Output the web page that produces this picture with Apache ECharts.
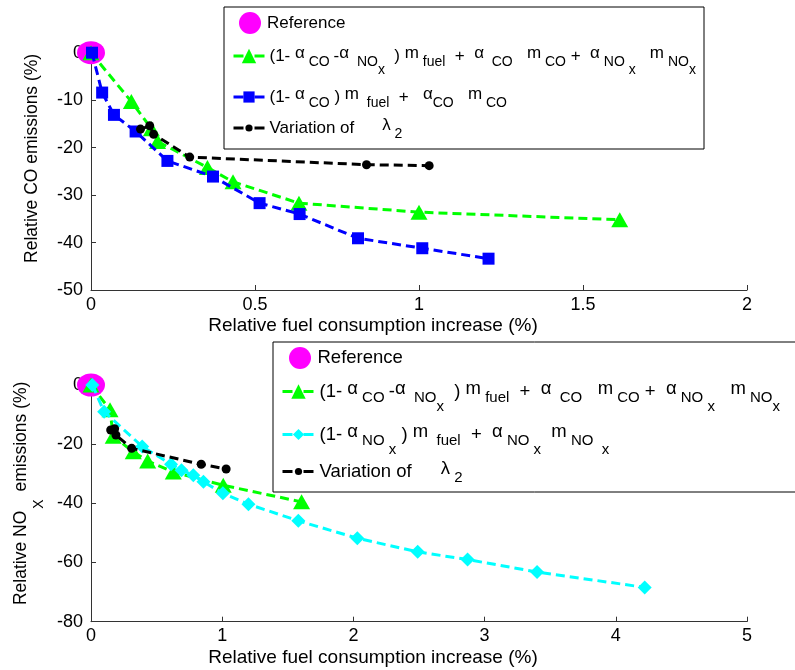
<!DOCTYPE html>
<html>
<head>
<meta charset="utf-8">
<script src="https://cdn.jsdelivr.net/npm/echarts@6/dist/echarts.min.js"></script>
<style>html,body{margin:0;padding:0;background:#fff}#c{width:795px;height:670px}</style>
</head>
<body>
<div id="c"></div>
<script>
// ---------- data ----------
var refX = [0];
var refY = [0];

// Top panel: relative CO emissions vs relative fuel consumption increase
var coAllX = [0, 0.123, 0.184, 0.203, 0.355, 0.433, 0.634, 1.000, 1.612];
var coAllY = [0, -10.3, -16.0, -18.7, -24.2, -27.2, -31.7, -33.6, -35.2];
var coCoX  = [0.003, 0.034, 0.070, 0.136, 0.233, 0.372, 0.514, 0.636, 0.814, 1.010, 1.212];
var coCoY  = [0, -8.4, -13.1, -16.6, -22.8, -26.1, -31.7, -34.0, -39.1, -41.2, -43.4];
var coLamX = [0.151, 0.179, 0.191, 0.301, 0.840, 1.031];
var coLamY = [-16.1, -15.4, -17.2, -22.0, -23.6, -23.8];

// Bottom panel: relative NOx emissions vs relative fuel consumption increase
var noAllX = [0, 0.145, 0.169, 0.322, 0.432, 0.627, 1.008, 1.605];
var noAllY = [0, -8.4, -17.3, -22.6, -25.7, -29.4, -33.9, -39.5];
var noNoX  = [0.01, 0.10, 0.39, 0.61, 0.69, 0.78, 0.857, 1.005, 1.20, 1.58, 2.03, 2.49, 2.87, 3.40, 4.22];
var noNoY  = [0, -9.0, -20.8, -26.8, -28.8, -30.5, -32.7, -36.6, -40.3, -45.9, -51.8, -56.4, -59.0, -63.2, -68.4];
var noLamX = [0.15, 0.18, 0.19, 0.31, 0.84, 1.03];
var noLamY = [-15.2, -14.8, -16.9, -21.4, -26.8, -28.4];

var topXTicks = [0, 0.5, 1, 1.5, 2];
var topYTicks = [-50, -40, -30, -20, -10, 0];
var botXTicks = [0, 1, 2, 3, 4, 5];
var botYTicks = [-80, -60, -40, -20, 0];

var xTitle = 'Relative fuel consumption increase (%)';
var coTitle = 'Relative CO emissions (%)';
var noTitle = '{t|Relative NO}{X|X}{t| emissions (%)}';
var allText = '{t|(1- }{a|α}{s| CO }{t|-}{a|α}{s|  NO}{x|x}{t|  ) }{a|m}{s| fuel}{t|  +  }{a|α}{s|  CO}{t|   }{a|m}{s| CO}{t| +  }{a|α}{s| NO}{x| x}{t|   }{a|m}{s| NO}{x|x}';
var legendTexts = {
  ref1: '{t|Reference}',
  ref2: '{t|Reference}',
  coAll: allText,
  coCo: '{t|(1- }{a|α}{s| CO}{t| ) }{a|m}{s|  fuel}{t|  +   }{a|α}{s|CO}{t|   }{a|m}{s| CO}',
  coLam: '{t|Variation of}{lam|λ}{s| 2}',
  noAll: allText,
  noNo: '{t|(1- }{a|α}{s| NO}{x| x}{t| ) }{a|m}{s|  fuel}{t|  +  }{a|α}{s| NO}{x| x}{t|  }{a|m}{s| NO}{x|  x}',
  noLam: '{t|Variation of}{lam|λ}{s| 2}'
};

function zip(xs, ys) { return xs.map(function (v, i) { return [v, ys[i]]; }); }

var FONT = 'Liberation Sans, Arial, sans-serif';
var GREEN = '#00ff00', BLUE = '#0000ff', BLACK = '#000000', CYAN = '#00ffff', MAGENTA = '#ff00ff';
var DASH = [9, 5];

function makeRich(main, sub, subPad, xPad, lamPad) {
  var base = {lineHeight: 20, verticalAlign: 'middle', fontFamily: FONT, color: '#000'};
  function st(extra) { var o = {}; for (var k in base) o[k] = base[k]; for (var j in extra) o[j] = extra[j]; return o; }
  return {
    t:   st({fontSize: main}),
    a:   st({fontSize: main, padding: [0, 0, 6, 0]}),
    s:   st({fontSize: sub, padding: [subPad, 0, 0, 0]}),
    x:   st({fontSize: sub, padding: [xPad, 0, 0, 0]}),
    lam: st({fontSize: main, padding: [0, 0, 6, lamPad]})
  };
}
var richTop = makeRich(17, 14, 12, 28, 28);
var richBot = makeRich(18.5, 15, 12, 30, 29);

function mkLegend(name, left, top, iw, ih, isRef, rich, fs) {
  var l = {
    data: [name], left: left, top: top, padding: 0, itemGap: 0,
    itemWidth: iw, itemHeight: ih, selectedMode: false,
    formatter: function (n) { return legendTexts[n]; },
    textStyle: {fontFamily: FONT, fontSize: fs, color: '#000', rich: rich}
  };
  if (isRef) { l.icon = 'circle'; }
  else { l.lineStyle = {type: [10, 11], width: 3}; }
  return l;
}

function axisCommon(extra) {
  var o = {
    type: 'value',
    axisLine: {show: true, onZero: false, lineStyle: {color: '#333', width: 1}},
    axisTick: {show: true, inside: true, length: 5, lineStyle: {color: '#333'}},
    splitLine: {show: false},
    axisLabel: {color: '#000', fontSize: 18, fontFamily: FONT}
  };
  for (var k in extra) o[k] = extra[k];
  return o;
}

function lineSeries(name, xi, yi, xs, ys, color, symbol, size, z) {
  return {
    name: name, type: 'line', xAxisIndex: xi, yAxisIndex: yi,
    data: zip(xs, ys), symbol: symbol, symbolSize: size, z: z,
    lineStyle: {color: color, width: 3, type: DASH},
    itemStyle: {color: color}, showSymbol: true, animation: false
  };
}

var chart = echarts.init(document.getElementById('c'), null, {renderer: 'canvas'});
chart.setOption({
  backgroundColor: '#fff',
  animation: false,
  grid: [
    {left: 91, width: 656, top: 52.7, height: 237.3, outerBoundsMode: 'none', containLabel: false},
    {left: 91, width: 656, top: 385, height: 236.7, outerBoundsMode: 'none', containLabel: false}
  ],
  xAxis: [
    axisCommon({gridIndex: 0, min: topXTicks[0], max: topXTicks[topXTicks.length - 1], interval: 0.5,
      axisLabel: {color: '#000', fontSize: 18, fontFamily: FONT, margin: 6},
      name: xTitle, nameLocation: 'middle', nameGap: 26,
      nameTextStyle: {color: '#000', fontSize: 19, fontFamily: FONT, padding: [0, 92, 0, 0]}}),
    axisCommon({gridIndex: 1, min: botXTicks[0], max: botXTicks[botXTicks.length - 1], interval: 1,
      axisLabel: {color: '#000', fontSize: 18, fontFamily: FONT, margin: 5},
      name: xTitle, nameLocation: 'middle', nameGap: 27,
      nameTextStyle: {color: '#000', fontSize: 19, fontFamily: FONT, padding: [0, 92, 0, 0]}})
  ],
  yAxis: [
    axisCommon({gridIndex: 0, min: topYTicks[0], max: topYTicks[topYTicks.length - 1], interval: 10,
      axisLabel: {color: '#000', fontSize: 18, fontFamily: FONT, margin: 8},
      name: coTitle, nameLocation: 'middle', nameGap: 50,
      nameTextStyle: {color: '#000', fontSize: 17.5, fontFamily: FONT, padding: [0, 0, 0, 26]}}),
    axisCommon({gridIndex: 1, min: botYTicks[0], max: botYTicks[botYTicks.length - 1], interval: 20,
      axisLabel: {color: '#000', fontSize: 18, fontFamily: FONT, margin: 8},
      name: noTitle, nameLocation: 'middle', nameGap: 52,
      nameTextStyle: {color: '#000', fontSize: 17.5, fontFamily: FONT, padding: [0, 0, 0, 20],
        rich: {
          t: {fontSize: 17.5, fontFamily: FONT, color: '#000', lineHeight: 22, verticalAlign: 'middle'},
          X: {fontSize: 14, fontFamily: FONT, color: '#000', lineHeight: 22, verticalAlign: 'middle', padding: [36, 3, 0, 2]}
        }}})
  ],
  legend: [
    mkLegend('ref1', 239, 12, 24, 22, true, richTop, 17),
    mkLegend('coAll', 232, 35, 31, 18, false, richTop, 17),
    mkLegend('coCo', 232, 84, 31, 14, false, richTop, 17),
    mkLegend('coLam', 232, 115, 31, 9, false, richTop, 17),
    mkLegend('ref2', 289, 347, 25, 22, true, richBot, 18.5),
    mkLegend('noAll', 281, 369, 32, 18, false, richBot, 18.5),
    mkLegend('noNo', 281, 412, 32, 14, false, richBot, 18.5),
    mkLegend('noLam', 281, 458, 32, 9, false, richBot, 18.5)
  ],
  graphic: [
    {type: 'rect', z: 1, shape: {x: 224, y: 7, width: 480, height: 142}, style: {fill: '#fff', stroke: '#000', lineWidth: 1}},
    {type: 'rect', z: 1, shape: {x: 273, y: 342, width: 540, height: 150}, style: {fill: '#fff', stroke: '#000', lineWidth: 1}}
  ],
  series: [
    {name: 'ref1', type: 'scatter', xAxisIndex: 0, yAxisIndex: 0, data: zip(refX, refY),
      symbol: 'circle', symbolSize: [28, 23], itemStyle: {color: MAGENTA, opacity: 1}, z: 2},
    lineSeries('coAll', 0, 0, coAllX, coAllY, GREEN, 'triangle', [17, 15], 3),
    lineSeries('coCo', 0, 0, coCoX, coCoY, BLUE, 'rect', 12, 4),
    lineSeries('coLam', 0, 0, coLamX, coLamY, BLACK, 'circle', 9, 5),
    {name: 'ref2', type: 'scatter', xAxisIndex: 1, yAxisIndex: 1, data: zip(refX, refY),
      symbol: 'circle', symbolSize: [28, 23], itemStyle: {color: MAGENTA, opacity: 1}, z: 2},
    lineSeries('noAll', 1, 1, noAllX, noAllY, GREEN, 'triangle', [17, 15], 3),
    lineSeries('noNo', 1, 1, noNoX, noNoY, CYAN, 'diamond', 14, 4),
    lineSeries('noLam', 1, 1, noLamX, noLamY, BLACK, 'circle', 9, 5)
  ]
});
</script>
</body>
</html>
